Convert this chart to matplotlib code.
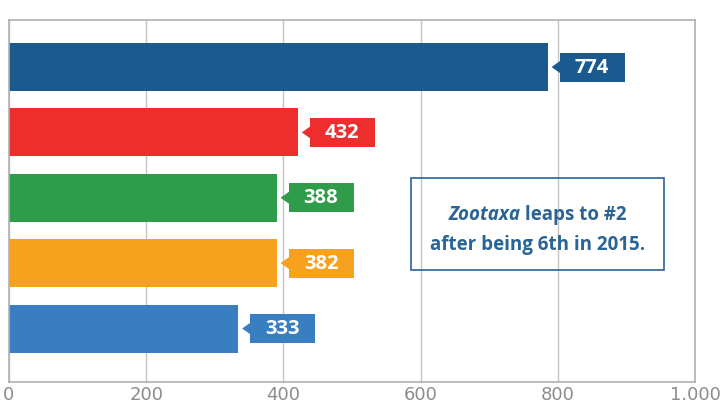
import matplotlib
matplotlib.use("Agg")
import matplotlib.pyplot as plt
from matplotlib.patches import Polygon, Rectangle
from matplotlib.ticker import FuncFormatter

# data
labels = ["774", "432", "388", "382", "333"]
bar_values = [785, 421, 390, 390, 334]   # drawn bar lengths
colors = ["#1b5a8e", "#ee2e2c", "#2e9c48", "#f7a21e", "#3a7ec2"]
xticks = [0, 200, 400, 600, 800, 1000]
note_italic = "Zootaxa"
note_rest = " leaps to #2"
note_line2 = "after being 6th in 2015."

fig = plt.figure(figsize=(7.23, 4.05), dpi=100)
W, H = 723, 405
ax = fig.add_axes([9 / W, 1 - 382 / H, (695 - 9) / W, (382 - 20) / H])

ypos = list(range(len(bar_values)))
ax.barh(ypos, bar_values, height=0.734, color=colors, zorder=2)
ax.set_xlim(0, 1000)
ax.set_ylim(4.818, -0.719)

# pixel -> data scale
px_x = 1000 / (695 - 9)
px_y = 5.537 / (382 - 20)

# callouts
for y, v, lab, c in zip(ypos, bar_values, labels, colors):
    x0 = v + 12 * px_x
    bw = 65 * px_x
    bh = 29 * px_y
    ax.add_patch(Rectangle((x0, y - bh / 2), bw, bh, color=c, zorder=3, lw=0))
    tri = [(v + 4 * px_x, y), (x0 + 0.5 * px_x, y - 6 * px_y), (x0 + 0.5 * px_x, y + 6 * px_y)]
    ax.add_patch(Polygon(tri, closed=True, color=c, zorder=3, lw=0))
    ax.text(x0 + bw / 2, y + 0.5 * px_y, lab, color="white", fontsize=14.5, fontweight="bold",
            family="Open Sans", ha="center", va="center", zorder=4)

# note box
bx0, bx1 = 586, 955
by0, by1 = -0.719 + (178 - 20) * px_y, -0.719 + (270 - 20) * px_y
ax.add_patch(Rectangle((bx0, by0), bx1 - bx0, by1 - by0, fill=False, ec="#2a6496", lw=1.2, zorder=3))
note_color = "#2a6496"
cx = (bx0 + bx1) / 2
fig.canvas.draw()
r = fig.canvas.get_renderer()
t1 = ax.text(0, 0, note_italic, color=note_color, fontsize=13.5, fontweight="bold",
             style="italic", family="Open Sans", va="baseline", zorder=4)
t2 = ax.text(0, 0, note_rest, color=note_color, fontsize=13.5, fontweight="bold",
             family="Open Sans", va="baseline", zorder=4)
w1 = t1.get_window_extent(r).width * px_x
w2 = t2.get_window_extent(r).width * px_x
line1_y = -0.719 + (220 - 20) * px_y
start = cx - (w1 + w2) / 2
t1.set_position((start, line1_y))
t2.set_position((start + w1, line1_y))
ax.text(cx, -0.719 + (250 - 20) * px_y, note_line2, color=note_color, fontsize=13.5,
        fontweight="bold", family="Open Sans", ha="center", va="baseline", zorder=4)

# axes styling
ax.set_yticks([])
ax.set_xticks(xticks)
ax.xaxis.set_major_formatter(FuncFormatter(lambda v, p: f"{int(v):,}".replace(",", ".")))
ax.tick_params(axis="x", length=0, pad=3, labelsize=13, labelcolor="#8c8c8c")
ax.grid(axis="x", color="#c4c4c4", lw=1, zorder=1)
ax.set_axisbelow(True)
for s in ax.spines.values():
    s.set_color("#b0b0b0")
    s.set_linewidth(1.2)

fig.savefig("out.png", dpi=100)
